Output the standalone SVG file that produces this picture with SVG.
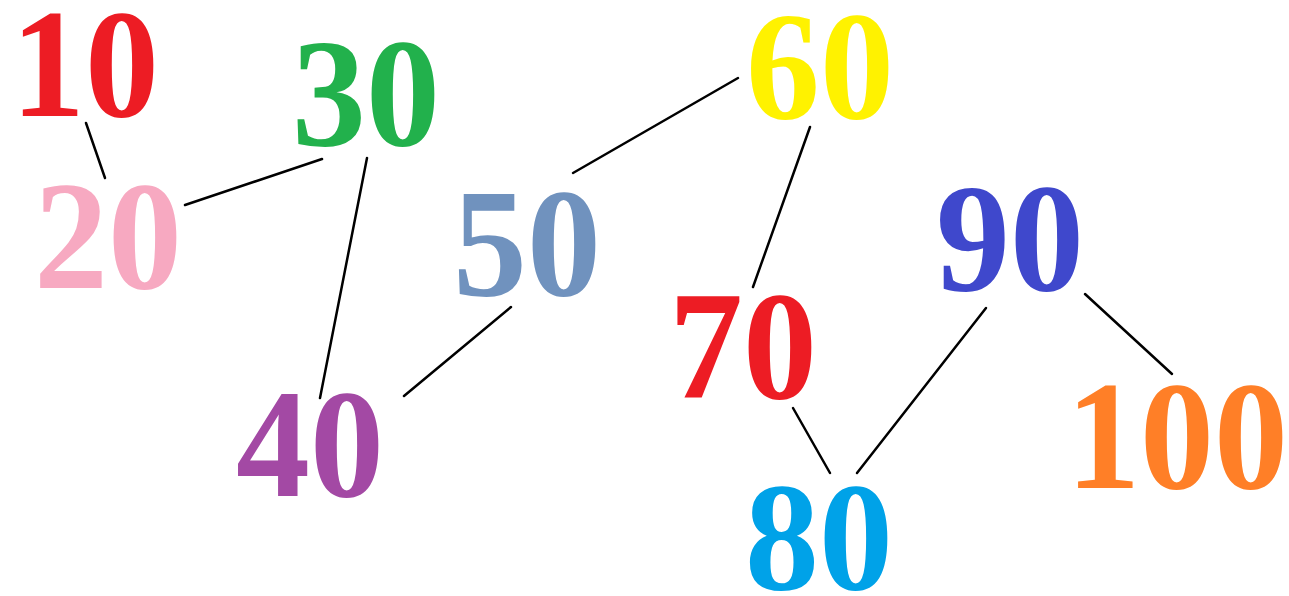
<svg xmlns="http://www.w3.org/2000/svg" width="1289" height="596" viewBox="0 0 1289 596">
<style>
.n{font-family:"Liberation Serif","Times New Roman",serif;font-weight:bold;font-size:154px;text-anchor:middle}
.e line{stroke:#000;stroke-width:2.5;stroke-linecap:round}
</style>
<rect width="1289" height="596" fill="#fff"/>
<g class="e" id="connectors">
<line x1="86" y1="123" x2="105" y2="178"/>
<line x1="185" y1="205" x2="322" y2="159"/>
<line x1="367" y1="158" x2="320" y2="398"/>
<line x1="404" y1="396" x2="511" y2="307"/>
<line x1="573" y1="173" x2="738" y2="78"/>
<line x1="810" y1="127" x2="753" y2="287"/>
<line x1="793" y1="408" x2="830" y2="473"/>
<line x1="857" y1="473" x2="986" y2="308"/>
<line x1="1085" y1="294" x2="1172" y2="374"/>
</g>
<g id="n10" transform="translate(85,116) scale(0.96,1)"><text class="n" fill="#ED1C24">10</text></g>
<g id="n20" transform="translate(108,288) scale(0.96,1)"><text class="n" fill="#F7A9C1">20</text></g>
<g id="n30" transform="translate(366,145) scale(0.96,1)"><text class="n" fill="#22B14C">30</text></g>
<g id="n40" transform="translate(310,496) scale(0.96,1)"><text class="n" fill="#A349A4">40</text></g>
<g id="n50" transform="translate(527,295) scale(0.96,1)"><text class="n" fill="#7092BE">50</text></g>
<g id="n60" transform="translate(820,118) scale(0.96,1)"><text class="n" fill="#FFF200">60</text></g>
<g id="n70" transform="translate(743,398) scale(0.96,1)"><text class="n" fill="#ED1C24">70</text></g>
<g id="n80" transform="translate(819,589) scale(0.96,1)"><text class="n" fill="#00A2E8">80</text></g>
<g id="n90" transform="translate(1010,290) scale(0.96,1)"><text class="n" fill="#3F48CC">90</text></g>
<g id="n100" transform="translate(1177,488) scale(0.96,1)"><text class="n" fill="#FF7F27">100</text></g>
</svg>
